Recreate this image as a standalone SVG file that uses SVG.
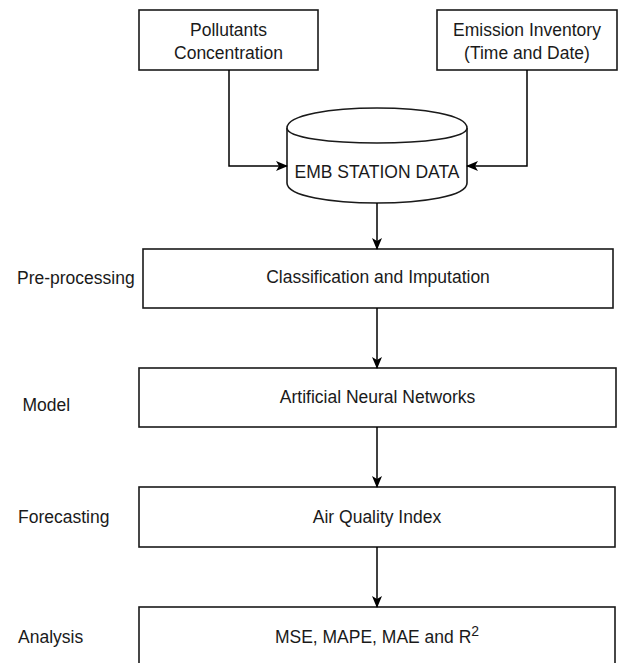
<svg xmlns="http://www.w3.org/2000/svg" width="622" height="663" viewBox="0 0 622 663">
  <style>
    .box { fill: #ffffff; stroke: #1a1a1a; stroke-width: 1.6; }
    .lbl { font-family: "Liberation Sans", Arial, sans-serif; font-size: 17.5px; fill: #1a1a1a; }
    .mid { text-anchor: middle; }
    .edge { fill: none; stroke: #000000; stroke-width: 1.5; }
  </style>
  <defs>
    <marker id="arrow" viewBox="0 0 12 10" refX="11" refY="5" markerWidth="12" markerHeight="10" markerUnits="userSpaceOnUse" orient="auto">
      <path d="M0,0 L12,5 L0,10 L3,5 Z" fill="#000000"/>
    </marker>
  </defs>
  <rect width="622" height="663" fill="#ffffff"/>

  <!-- input sources -->
  <g id="pollutants">
    <rect class="box" x="139" y="10" width="179" height="60"/>
    <text class="lbl mid" x="228.5" y="35.5">Pollutants</text>
    <text class="lbl mid" x="228.5" y="59">Concentration</text>
  </g>
  <g id="emission">
    <rect class="box" x="437" y="10" width="180" height="60"/>
    <text class="lbl mid" x="527" y="35.5">Emission Inventory</text>
    <text class="lbl mid" x="527" y="59">(Time and Date)</text>
  </g>

  <!-- data store -->
  <g id="station-data">
    <path class="box" d="M287,128 C287,101.3 467,101.3 467,128 L467,183 C467,209.7 287,209.7 287,183 Z"/>
    <path class="box" fill="none" d="M287,128 C287,148 467,148 467,128"/>
    <text class="lbl mid" x="377" y="178">EMB STATION DATA</text>
  </g>

  <!-- processing stages -->
  <g id="preprocessing">
    <text class="lbl" x="17" y="284">Pre-processing</text>
    <rect class="box" x="143" y="249" width="470" height="59"/>
    <text class="lbl mid" x="378" y="283">Classification and Imputation</text>
  </g>
  <g id="model">
    <text class="lbl" x="22.5" y="411">Model</text>
    <rect class="box" x="139" y="368" width="477" height="59"/>
    <text class="lbl mid" x="377.5" y="403">Artificial Neural Networks</text>
  </g>
  <g id="forecasting">
    <text class="lbl" x="18" y="523">Forecasting</text>
    <rect class="box" x="139" y="487" width="476" height="60"/>
    <text class="lbl mid" x="377" y="523">Air Quality Index</text>
  </g>
  <g id="analysis">
    <text class="lbl" x="18" y="643">Analysis</text>
    <rect class="box" x="139" y="607" width="476" height="66"/>
    <text class="lbl mid" x="377" y="643">MSE, MAPE, MAE and R<tspan font-size="14" dy="-7">2</tspan></text>
  </g>

  <!-- connectors -->
  <g id="connectors">
    <path class="edge" d="M229,70 L229,166 L287,166" marker-end="url(#arrow)"/>
    <path class="edge" d="M527,70 L527,166 L467,166" marker-end="url(#arrow)"/>
    <path class="edge" d="M377,203 L377,249" marker-end="url(#arrow)"/>
    <path class="edge" d="M377,308 L377,368" marker-end="url(#arrow)"/>
    <path class="edge" d="M377,427 L377,487" marker-end="url(#arrow)"/>
    <path class="edge" d="M377,547 L377,607" marker-end="url(#arrow)"/>
  </g>
</svg>
